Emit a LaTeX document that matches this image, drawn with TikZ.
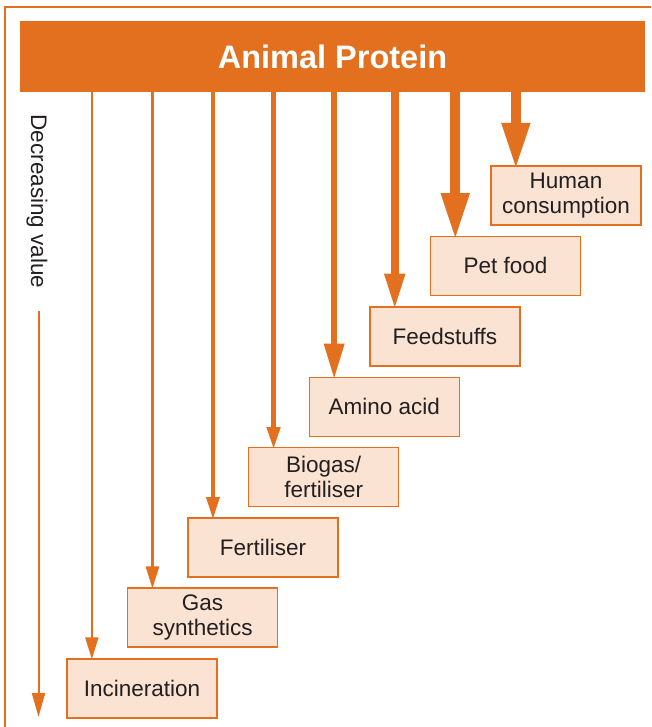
\documentclass[tikz,border=0pt]{standalone}
\usepackage{fontspec}
\setmainfont{Liberation Sans}
\usetikzlibrary{arrows.meta,calc}
\definecolor{org}{HTML}{E2701F}
\definecolor{boxfill}{HTML}{FBE3D3}
\definecolor{txt}{HTML}{231F20}
\begin{document}
\begin{tikzpicture}[x=1pt,y=-1pt,
  stage/.style={draw=org,line width=1.3pt,fill=boxfill,minimum width=150pt,minimum height=59pt,
    inner sep=0pt,align=center,text=txt,font=\fontsize{22.5}{25}\selectfont},
  thinflow/.style={draw=org,line width=#1,shorten >=-0.45*#1,-{Triangle[width=13pt,length=22pt]}},
  midflow/.style={draw=org,line width=#1,shorten >=-0.45*#1,-{Triangle[width=19pt,length=36pt]}},
  bigflow/.style={draw=org,line width=#1,shorten >=-0.45*#1,-{Triangle[width=26pt,length=47pt]}},
  titlebar/.style={fill=org,minimum width=625pt,minimum height=71pt,inner sep=0pt,text=white,
    font=\bfseries\fontsize{32.5}{36}\selectfont}
]
\useasboundingbox (0,0) rectangle (651,727);
% frame
\draw[org,line width=2pt] (651,7.5) -- (5,7.5) -- (5,727);
% title
\node[titlebar] (title) at (332.5,56.5) {Animal Protein};
% boxes
\node[stage] (inc)   at (142,688.5)   {Incineration};
\node[stage] (gas)   at (202.6,617.5) {Gas\\synthetics};
\node[stage] (fert)  at (263.1,547.6) {Fertiliser};
\node[stage] (bio)   at (323.7,477.2) {Biogas/\\fertiliser};
\node[stage] (amino) at (384.3,406.8) {Amino acid};
\node[stage] (feed)  at (444.9,336.4) {Feedstuffs};
\node[stage] (pet)   at (505.4,265.9) {Pet food};
\node[stage] (hum)   at (566,195.5)   {Human\\consumption};
% arrow end points
\coordinate (t1) at ($(inc.north west)+(25.5,0)$);
\coordinate (t2) at ($(gas.north west)+(25.5,0)$);
\coordinate (t3) at ($(fert.north west)+(25.5,0)$);
\coordinate (t4) at ($(bio.north west)+(25.5,0)$);
\coordinate (t5) at ($(amino.north west)+(25.5,0)$);
\coordinate (t6) at ($(feed.north west)+(25.5,0)$);
\coordinate (t7) at ($(pet.north west)+(25.5,0)$);
\coordinate (t8) at ($(hum.north west)+(25.5,0)$);
\draw[thinflow=2pt]   (title.south -| t1) -- (t1);
\draw[thinflow=2.5pt] (title.south -| t2) -- (t2);
\draw[thinflow=3.5pt] (title.south -| t3) -- (t3);
\draw[thinflow=4.5pt] (title.south -| t4) -- (t4);
\draw[midflow=6.5pt]  (title.south -| t5) -- (t5);
\draw[midflow=7.5pt]  (title.south -| t6) -- (t6);
\draw[bigflow=10pt]   (title.south -| t7) -- (t7);
\draw[bigflow=10pt]   (title.south -| t8) -- (t8);
% decreasing value
\node[rotate=-90,text=txt,inner sep=0pt,font=\fontsize{22.5}{25}\selectfont] (dv) at (37,201.5) {Decreasing value};
\coordinate (dvs) at (38.5,311);
\coordinate (dve) at (38.5,717);
\draw[draw=org,line width=2pt,-{Triangle[width=13pt,length=24pt]}] (dvs) -- (dve);
\end{tikzpicture}
\end{document}
